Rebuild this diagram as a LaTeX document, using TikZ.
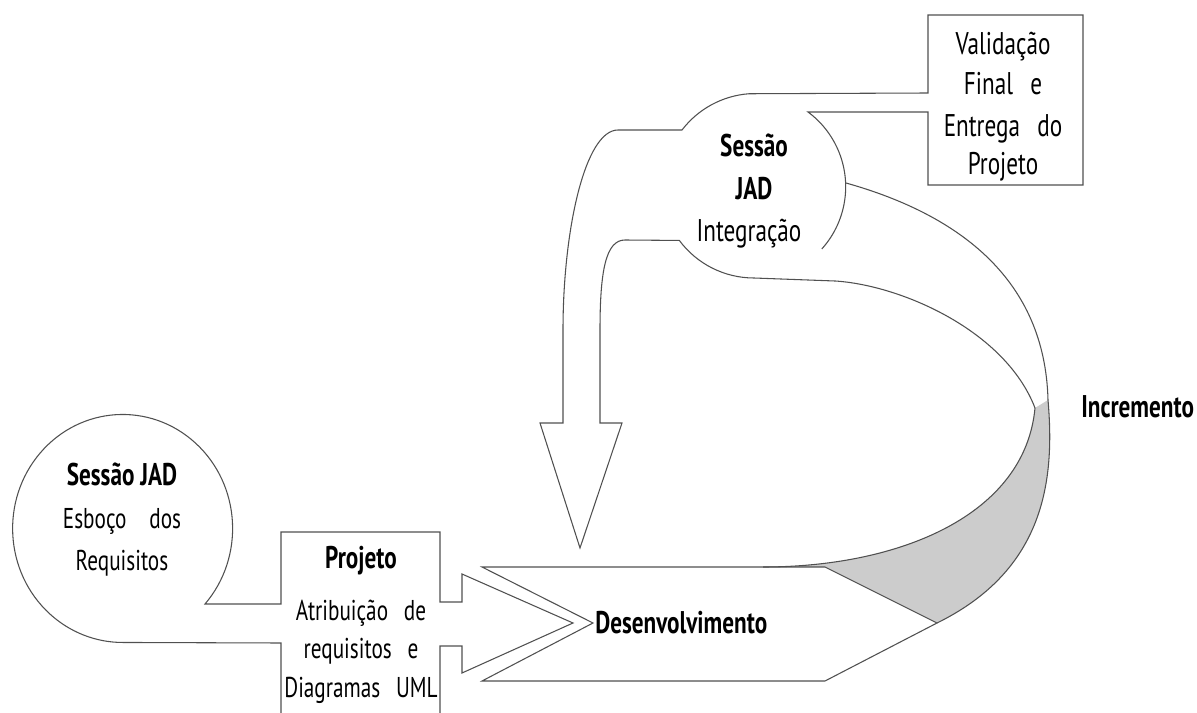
\documentclass[tikz,border=0pt]{standalone}
\usepackage{fontspec}
\setmainfont{PT Sans}[FakeStretch=0.74]
\definecolor{edge}{HTML}{505050}
\definecolor{ribbongray}{HTML}{CCCCCC}
\newcommand{\wsp}{\hspace{0.55em}}
\begin{document}
\begin{tikzpicture}[x=0.75pt,y=-0.75pt,
  outline/.style={draw=edge,line width=0.8pt,line join=miter},
  title/.style={font=\bfseries\fontsize{23.5}{28}\selectfont,inner sep=0pt,anchor=base},
  smalltext/.style={font=\fontsize{21.5}{25}\selectfont,inner sep=0pt,anchor=base},
  midtext/.style={font=\fontsize{21.5}{25}\selectfont,inner sep=0pt,anchor=base},
  bigtext/.style={font=\fontsize{23.5}{28}\selectfont,inner sep=0pt,anchor=base}]
\useasboundingbox (0,0) rectangle (1197,713);
\clip (0,0) rectangle (1197,713);

% shaded underside of the increment ribbon
\fill[ribbongray] (1035,408) .. controls (1025,515) and (900,567) .. (763,567)
  -- (825,567) -- (937,623) .. controls (1045,570) and (1055,480) .. (1048,400) -- cycle;

% development chevron
\draw[outline,fill=white] (482,567) -- (825,567) -- (937,623) -- (825,681)
  -- (482,681) -- (593,623) -- cycle;

% ribbon edges
\draw[outline] (835,281) .. controls (900,285) and (1005,330) .. (1035,408)
  .. controls (1025,515) and (900,567) .. (763,567);
\draw[outline] (846,183) .. controls (960,215) and (1045,280) .. (1048,400)
  .. controls (1055,480) and (1045,570) .. (937,623);

% first JAD session bubble joined to the design box
\draw[outline] (205,604) arc[start angle=41.5,end angle=-270,x radius=110,y radius=114]
  -- (281,643) -- (281,740) -- (440,740) -- (440,646) -- (462,646) -- (462,673)
  -- (573,623) -- (462,574) -- (462,602) -- (440,602) -- (440,532) -- (281,532)
  -- (281,604) -- cycle;

% integration bubble with the feedback arrow and the delivery box
\draw[outline] (835,281) -- (754,278) arc[start angle=90,end angle=143.4,radius=93]
  -- (625,240) .. controls (606,240) and (600,270) .. (600,330) -- (600,423)
  -- (622,423) -- (580,548) -- (540,423) -- (563,423) -- (563,330)
  .. controls (563,230) and (585,130) .. (618,130) -- (682,130)
  arc[start angle=-142.6,end angle=-94.3,radius=93] -- (928,93) -- (928,15)
  -- (1083,15) -- (1083,185) -- (928,185) -- (928,112) -- (808,112)
  arc[start angle=-53.5,end angle=42,radius=93];

% labels
\node[title] (jadA) at (122,485) {Sessão JAD};
\node[smalltext] (esboco) at (122,528) {Esboço\hspace{0.8em}dos};
\node[smalltext] (requisitos) at (122,570) {Requisitos};
\node[title] (projeto) at (361,568) {Projeto};
\node[midtext] (atrib) at (361,620) {Atribuição\wsp de};
\node[midtext] (reqe) at (361,658) {requisitos\wsp e};
\node[midtext] (uml) at (361,697) {Diagramas\wsp UML};
\node[title,anchor=base west] (dev) at (595,633) {Desenvolvimento};
\node[title] (sessao) at (754,157) {Sessão};
\node[title] (jadB) at (754,200) {JAD};
\node[bigtext] (integ) at (749,242) {Integração};
\node[bigtext] (val) at (1003,55) {Validação};
\node[bigtext] (final) at (1003,95) {Final\wsp e};
\node[bigtext] (entrega) at (1003,137) {Entrega\wsp do};
\node[bigtext] (projB) at (1003,175) {Projeto};
\node[title,anchor=base west] (inc) at (1081,417) {Incremento};
\end{tikzpicture}
\end{document}
